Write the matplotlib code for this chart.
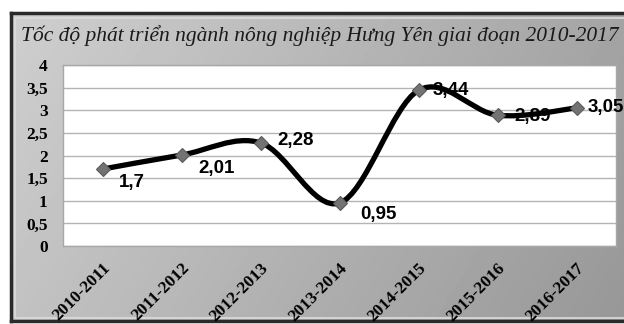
import numpy as np
import matplotlib
matplotlib.use("Agg")
import matplotlib.pyplot as plt
from matplotlib.path import Path
from matplotlib.patches import PathPatch, Rectangle

periods = ["2010-2011", "2011-2012", "2012-2013", "2013-2014",
           "2014-2015", "2015-2016", "2016-2017"]
growth = [1.7, 2.01, 2.28, 0.95, 3.44, 2.89, 3.05]
labels = ["1,7", "2,01", "2,28", "0,95", "3,44", "2,89", "3,05"]
yticks = [0, 0.5, 1, 1.5, 2, 2.5, 3, 3.5, 4]
ytick_labels = ["0", "0,5", "1", "1,5", "2", "2,5", "3", "3,5", "4"]

# label offsets in points (right / below the markers)
offsets = [(12, -10), (12, -10), (12, 2), (15, -8), (10, 0), (12, -1), (8, 0)]

W, H = 624, 324
fig = plt.figure(figsize=(W / 100, H / 100), dpi=100)
fig.patch.set_facecolor("white")

# grey gradient frame
bg = fig.add_axes([11 / W, (H - 321) / H, (W - 11) / W + 0.02, (321 - 13) / H])
gx = np.linspace(0, 1, 200)
gy = np.linspace(0, 1, 100)
GX, GY = np.meshgrid(gx, gy)
grad = 0.81 - 0.17 * GX - 0.05 * GY
bg.imshow(grad, cmap="gray", vmin=0, vmax=1, aspect="auto",
          extent=[0, 1, 0, 1], origin="upper")
bg.set_xlim(0, 1)
bg.set_ylim(0, 1)
bg.set_xticks([])
bg.set_yticks([])
for s in bg.spines.values():
    s.set_color("#2a2a2a")
    s.set_linewidth(2.5)
bg.add_patch(Rectangle((0.006, 0.01), 1.2, 0.975, transform=bg.transAxes,
                       fill=False, ec="#dcdcdc", lw=1.2))

fig.text(320 / W, 1 - 36 / H,
         "Tốc độ phát triển ngành nông nghiệp Hưng Yên giai đoạn 2010-2017",
         ha="center", va="center", fontsize=15.5, style="italic",
         family="Liberation Serif", color="#1a1a1a")

ax = fig.add_axes([63 / W, (H - 246) / H, 553 / W, 181 / H])
ax.set_facecolor("white")
x = np.arange(len(growth))
ax.set_xlim(-0.5, len(growth) - 0.5)
ax.set_ylim(0, 4)

ax.set_yticks(yticks)
ax.set_yticklabels(ytick_labels, family="Liberation Serif",
                   fontweight="bold", fontsize=12.5)
ax.yaxis.grid(True, color="#b4b4b4", lw=1)
ax.set_axisbelow(True)
ax.tick_params(axis="y", length=0, pad=11)

ax.set_xticks(x)
ax.set_xticklabels(periods, rotation=45, ha="right", va="top",
                   rotation_mode="anchor", family="Liberation Serif",
                   fontweight="bold", fontsize=12.5)
ax.tick_params(axis="x", length=0, pad=10)
for s in ax.spines.values():
    s.set_color("#a8a8a8")
    s.set_linewidth(1)

# smoothed line like a spreadsheet chart
pts = np.column_stack([x, growth]).astype(float)
ext = np.vstack([pts[0], pts, pts[-1]])
verts = [tuple(pts[0])]
codes = [Path.MOVETO]
for i in range(len(pts) - 1):
    p0, p1, p2, p3 = ext[i], ext[i + 1], ext[i + 2], ext[i + 3]
    c1 = p1 + (p2 - p0) / 6
    c2 = p2 - (p3 - p1) / 6
    verts += [tuple(c1), tuple(c2), tuple(p2)]
    codes += [Path.CURVE4] * 3
ax.add_patch(PathPatch(Path(verts, codes), fill=False, ec="black",
                       lw=3.8, capstyle="round", joinstyle="round", zorder=3))

ax.plot(x, growth, ls="none", marker="D", ms=7.5, mfc="#737373",
        mec="#5a5a5a", mew=0.8, zorder=4, clip_on=False)

for xi, yi, lab, off in zip(x, growth, labels, offsets):
    ax.annotate(lab, (xi, yi), xytext=off, textcoords="offset points",
                ha="left", va="center", fontsize=13.5, fontweight="bold",
                family="Liberation Sans", color="black", zorder=5,
                annotation_clip=False)

fig.savefig("out.png", dpi=100)
